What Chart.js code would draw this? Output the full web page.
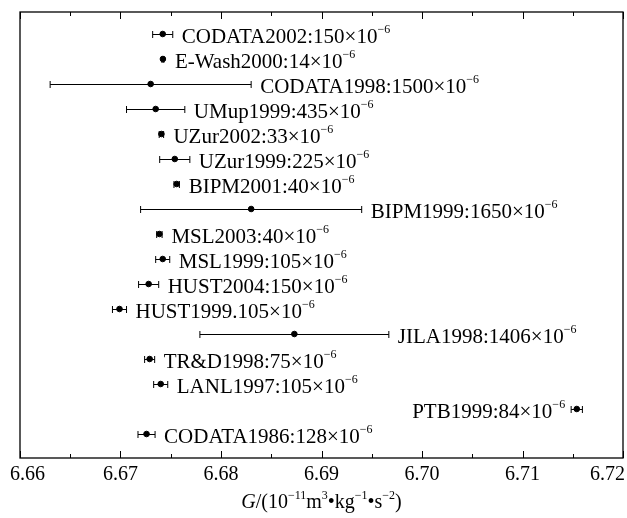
<!DOCTYPE html>
<html>
<head>
<meta charset="utf-8">
<script src="https://cdn.jsdelivr.net/npm/chart.js@4.4.1/dist/chart.umd.min.js"></script>
<style>
  html, body { margin: 0; padding: 0; background: #fff; }
</style>
</head>
<body>
<canvas id="canvas" width="627" height="518"></canvas>
<script>
// measurements of G, top row first
const names = ['CODATA2002', 'E-Wash2000', 'CODATA1998', 'UMup1999', 'UZur2002', 'UZur1999',
  'BIPM2001', 'BIPM1999', 'MSL2003', 'MSL1999', 'HUST2004', 'HUST1999', 'JILA1998',
  'TR&D1998', 'LANL1997', 'PTB1999', 'CODATA1986'];
const gValues = [6.6742, 6.67422, 6.673, 6.6735, 6.67407, 6.6754,
  6.67559, 6.683, 6.67387, 6.6742, 6.6728, 6.6699, 6.6873,
  6.6729, 6.6740, 6.7154, 6.67259];
const gErrors = [0.0010, 0.00009, 0.010, 0.0029, 0.00022, 0.0015,
  0.00027, 0.011, 0.00027, 0.0007, 0.0010, 0.0007, 0.0094,
  0.0005, 0.0007, 0.00056, 0.00085];
const relUnc = ['150', '14', '1500', '435', '33', '225',
  '40', '1650', '40', '105', '150', '105', '1406',
  '75', '105', '84', '128'];
const labelLeft = ['PTB1999'];

const xMin = 6.66, xMax = 6.72, xStep = 0.005;

const SERIF = '"Liberation Serif", "DejaVu Serif", serif';

function drawRich(ctx, x, y, parts, size, align) {
  let total = 0;
  const fonts = parts.map(p => {
    let s = p.sup ? Math.round(size * 0.58) : size;
    return (p.italic ? 'italic ' : '') + s + 'px ' + SERIF;
  });
  parts.forEach((p, i) => {
    ctx.font = fonts[i];
    total += ctx.measureText(p.t).width;
  });
  let cx = x;
  if (align === 'right') cx = x - total;
  if (align === 'center') cx = x - total / 2;
  ctx.textAlign = 'left';
  ctx.textBaseline = 'alphabetic';
  parts.forEach((p, i) => {
    ctx.font = fonts[i];
    ctx.fillText(p.t, cx, p.sup ? y - size * 0.45 : y);
    cx += ctx.measureText(p.t).width;
  });
}

const errorBarPlugin = {
  id: 'errorBars',
  afterDatasetsDraw(chart) {
    const ctx = chart.ctx;
    const xs = chart.scales.x, ys = chart.scales.y;
    ctx.save();
    ctx.strokeStyle = '#000';
    ctx.fillStyle = '#000';
    ctx.lineWidth = 1;
    for (let i = 0; i < names.length; i++) {
      const y = Math.round(ys.getPixelForValue(i + 1)) + 0.5;
      const x1 = xs.getPixelForValue(gValues[i] - gErrors[i]);
      const x2 = xs.getPixelForValue(gValues[i] + gErrors[i]);
      const xc = xs.getPixelForValue(gValues[i]);
      ctx.beginPath();
      ctx.moveTo(x1, y); ctx.lineTo(x2, y);
      ctx.moveTo(x1, y - 3.5); ctx.lineTo(x1, y + 3.5);
      ctx.moveTo(x2, y - 3.5); ctx.lineTo(x2, y + 3.5);
      ctx.stroke();

      const sep = names[i] === 'HUST1999' ? '.' : ':';
      const parts = [{t: names[i] + sep + relUnc[i] + '\u00d710'}, {t: '\u22126', sup: true}];
      if (labelLeft.includes(names[i])) {
        drawRich(ctx, Math.min(x1, xc - 3) - 6, y + 8, parts, 21, 'right');
      } else {
        drawRich(ctx, Math.max(x2, xc + 3) + 9, y + 8, parts, 21, 'left');
      }
    }
    ctx.restore();
  }
};

const framePlugin = {
  id: 'frame',
  afterDraw(chart) {
    const ctx = chart.ctx;
    const a = chart.chartArea;
    const xs = chart.scales.x;
    ctx.save();
    ctx.strokeStyle = '#000';
    ctx.lineWidth = 1.3;
    ctx.strokeRect(a.left, a.top, a.right - a.left, a.bottom - a.top);

    // inward ticks on top and bottom
    ctx.lineWidth = 1;
    ctx.fillStyle = '#000';
    xs.ticks.forEach(t => {
      const major = Math.round(t.value * 1000) % 10 === 0;
      const len = major ? 7 : 4;
      const px = Math.round(xs.getPixelForValue(t.value)) + 0.5;
      ctx.beginPath();
      ctx.moveTo(px, a.bottom); ctx.lineTo(px, a.bottom - len);
      ctx.moveTo(px, a.top); ctx.lineTo(px, a.top + len);
      ctx.stroke();
      if (major) {
        ctx.font = '20px ' + SERIF;
        const txt = t.value.toFixed(2);
        const w = ctx.measureText(txt).width;
        let cx = xs.getPixelForValue(t.value);
        cx = Math.max(cx, w / 2 + 10);
        cx = Math.min(cx, chart.width - w / 2 - 2);
        ctx.textAlign = 'center';
        ctx.textBaseline = 'alphabetic';
        ctx.fillText(txt, cx, a.bottom + 22);
      }
    });

    // axis title
    drawRich(ctx, (a.left + a.right) / 2, 508, [
      {t: 'G', italic: true}, {t: '/(10'}, {t: '\u221211', sup: true},
      {t: 'm'}, {t: '3', sup: true}, {t: '\u2022kg'}, {t: '\u22121', sup: true},
      {t: '\u2022s'}, {t: '\u22122', sup: true}, {t: ')'}
    ], 20, 'center');
    ctx.restore();
  }
};

let ctx = document.getElementById('canvas').getContext('2d');
let myChart = new Chart(ctx, {
  type: 'scatter',
  data: {
    datasets: [{
      data: gValues.map((v, i) => ({x: v, y: i + 1})),
      backgroundColor: '#000',
      borderColor: '#000',
      pointRadius: 2.8,
      pointHoverRadius: 2.8,
      showLine: false
    }]
  },
  options: {
    responsive: false,
    animation: false,
    layout: {
      padding: {left: 20, right: 4, top: 12, bottom: 60}
    },
    plugins: {
      legend: {display: false},
      tooltip: {enabled: false}
    },
    scales: {
      x: {
        type: 'linear',
        display: false,
        min: xMin,
        max: xMax,
        ticks: {stepSize: xStep}
      },
      y: {
        type: 'linear',
        display: false,
        reverse: true,
        min: 0.12,
        max: 17.96
      }
    }
  },
  plugins: [errorBarPlugin, framePlugin]
});
</script>
</body>
</html>
